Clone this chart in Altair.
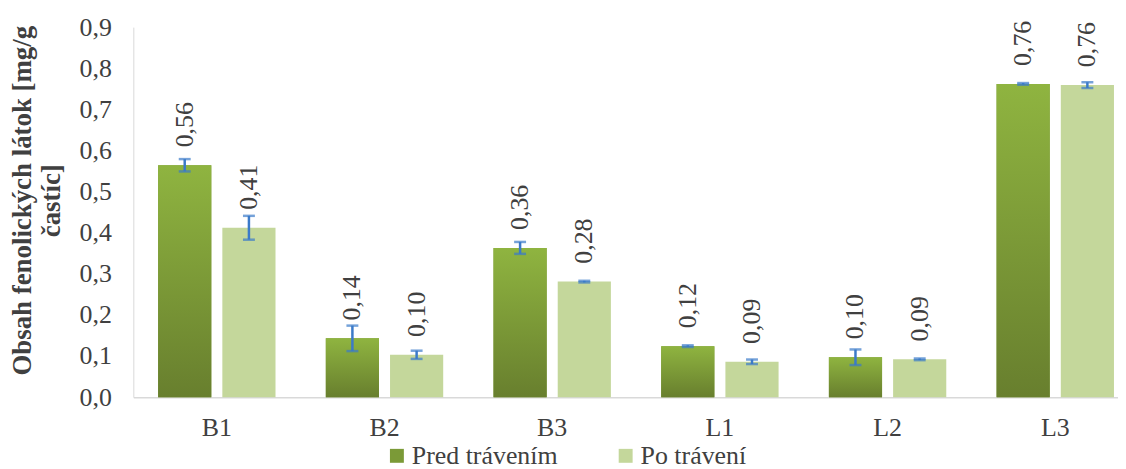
import altair as alt
import pandas as pd

categories = ["B1", "B2", "B3", "L1", "L2", "L3"]
series_names = ["Pred trávením", "Po trávení"]
pred_values = [0.564, 0.143, 0.363, 0.124, 0.097, 0.762]
pred_errors = [0.015, 0.031, 0.0145, 0.002, 0.019, 0.002]
po_values = [0.412, 0.103, 0.281, 0.086, 0.092, 0.759]
po_errors = [0.029, 0.010, 0.002, 0.0055, 0.002, 0.007]
y_ticks = [0.0, 0.1, 0.2, 0.3, 0.4, 0.5, 0.6, 0.7, 0.8, 0.9]
y_title = ["Obsah fenolických látok [mg/g", "častíc]"]

rows = []
for i, c in enumerate(categories):
    rows.append({"cat": c, "series": series_names[0], "value": pred_values[i], "err": pred_errors[i]})
    rows.append({"cat": c, "series": series_names[1], "value": po_values[i], "err": po_errors[i]})
df = pd.DataFrame(rows)
df["lo"] = df["value"] - df["err"]
df["hi"] = df["value"] + df["err"]

FONT = "Liberation Serif"
TXT = "#404040"
ERR = "#3b7ac9"

x_enc = alt.X("cat:N", sort=categories,
              scale=alt.Scale(paddingInner=0.3, paddingOuter=0.086, align=0.86),
              axis=alt.Axis(title=None, labelAngle=0, ticks=False, tickSize=0, labelPadding=18,
                            labelFontSize=26, labelFont=FONT, labelColor=TXT,
                            domainColor="#d9d9d9", domainWidth=1.5, grid=False))
xo_enc = alt.XOffset("series:N", sort=series_names,
                     scale=alt.Scale(paddingInner=0.172, paddingOuter=0))
y_scale = alt.Scale(domain=[0, 0.9], nice=False)

base = alt.Chart(df)

bars = base.mark_bar().encode(
    x=x_enc,
    xOffset=xo_enc,
    y=alt.Y("value:Q", scale=y_scale,
            axis=alt.Axis(values=y_ticks, title=y_title, ticks=False, tickSize=0, labelPadding=22,
                          labelExpr="replace(format(datum.value, '.1f'), '.', ',')",
                          labelFontSize=26, labelFont=FONT, labelColor=TXT,
                          titleFontSize=27, titleFont=FONT, titleColor=TXT, titleFontWeight="bold",
                          titlePadding=14, titleY=174, domainColor="#d9d9d9", domainWidth=1, grid=False)),
    color=alt.Color("series:N", sort=series_names,
                    scale=alt.Scale(domain=series_names, range=["#7b9a37", "#c4d79b"]),
                    legend=alt.Legend(title=None, orient="none", direction="horizontal",
                                      legendX=252, legendY=418,
                                      symbolType="square", symbolSize=196, symbolStrokeWidth=0,
                                      symbolOpacity=1,
                                      labelFontSize=26, labelFont=FONT, labelColor=TXT,
                                      labelOffset=2, columnPadding=55)),
)

grad = alt.Gradient(
    gradient="linear",
    stops=[alt.GradientStop(color="#687f2e", offset=0),
           alt.GradientStop(color="#8fb440", offset=1)],
    x1=0, x2=0, y1=1, y2=0,
)

pred_bars = base.transform_filter(alt.datum.series == series_names[0]).mark_bar(fill=grad).encode(
    x=alt.X("cat:N", sort=categories),
    xOffset=alt.XOffset("series:N", sort=series_names),
    y=alt.Y("value:Q"),
)

err_rule = base.mark_rule(color=ERR, strokeWidth=2.5).encode(
    x=alt.X("cat:N", sort=categories),
    xOffset=alt.XOffset("series:N", sort=series_names),
    y=alt.Y("lo:Q"),
    y2="hi:Q",
)
cap_lo = base.mark_tick(color=ERR, thickness=2.5, size=12, orient="horizontal").encode(
    x=alt.X("cat:N", sort=categories),
    xOffset=alt.XOffset("series:N", sort=series_names),
    y=alt.Y("lo:Q"),
)
cap_hi = base.mark_tick(color=ERR, thickness=2.5, size=12, orient="horizontal").encode(
    x=alt.X("cat:N", sort=categories),
    xOffset=alt.XOffset("series:N", sort=series_names),
    y=alt.Y("hi:Q"),
)

labels = base.transform_calculate(
    lab="replace(format(datum.value, '.2f'), '.', ',')"
).mark_text(angle=270, align="left", baseline="middle", dx=18,
            fontSize=26, font=FONT, color=TXT).encode(
    x=alt.X("cat:N", sort=categories),
    xOffset=alt.XOffset("series:N", sort=series_names),
    y=alt.Y("value:Q"),
    text="lab:N",
)

chart = alt.layer(bars, pred_bars, err_rule, cap_lo, cap_hi, labels).properties(
    width=990, height=372,
    autosize=alt.AutoSizeParams(type="none"),
    padding={"left": 126, "top": 18, "right": 0, "bottom": 71},
    background="white",
).configure_view(stroke=None)

chart.save("out.html", embed_options={"renderer": "svg", "actions": False})
